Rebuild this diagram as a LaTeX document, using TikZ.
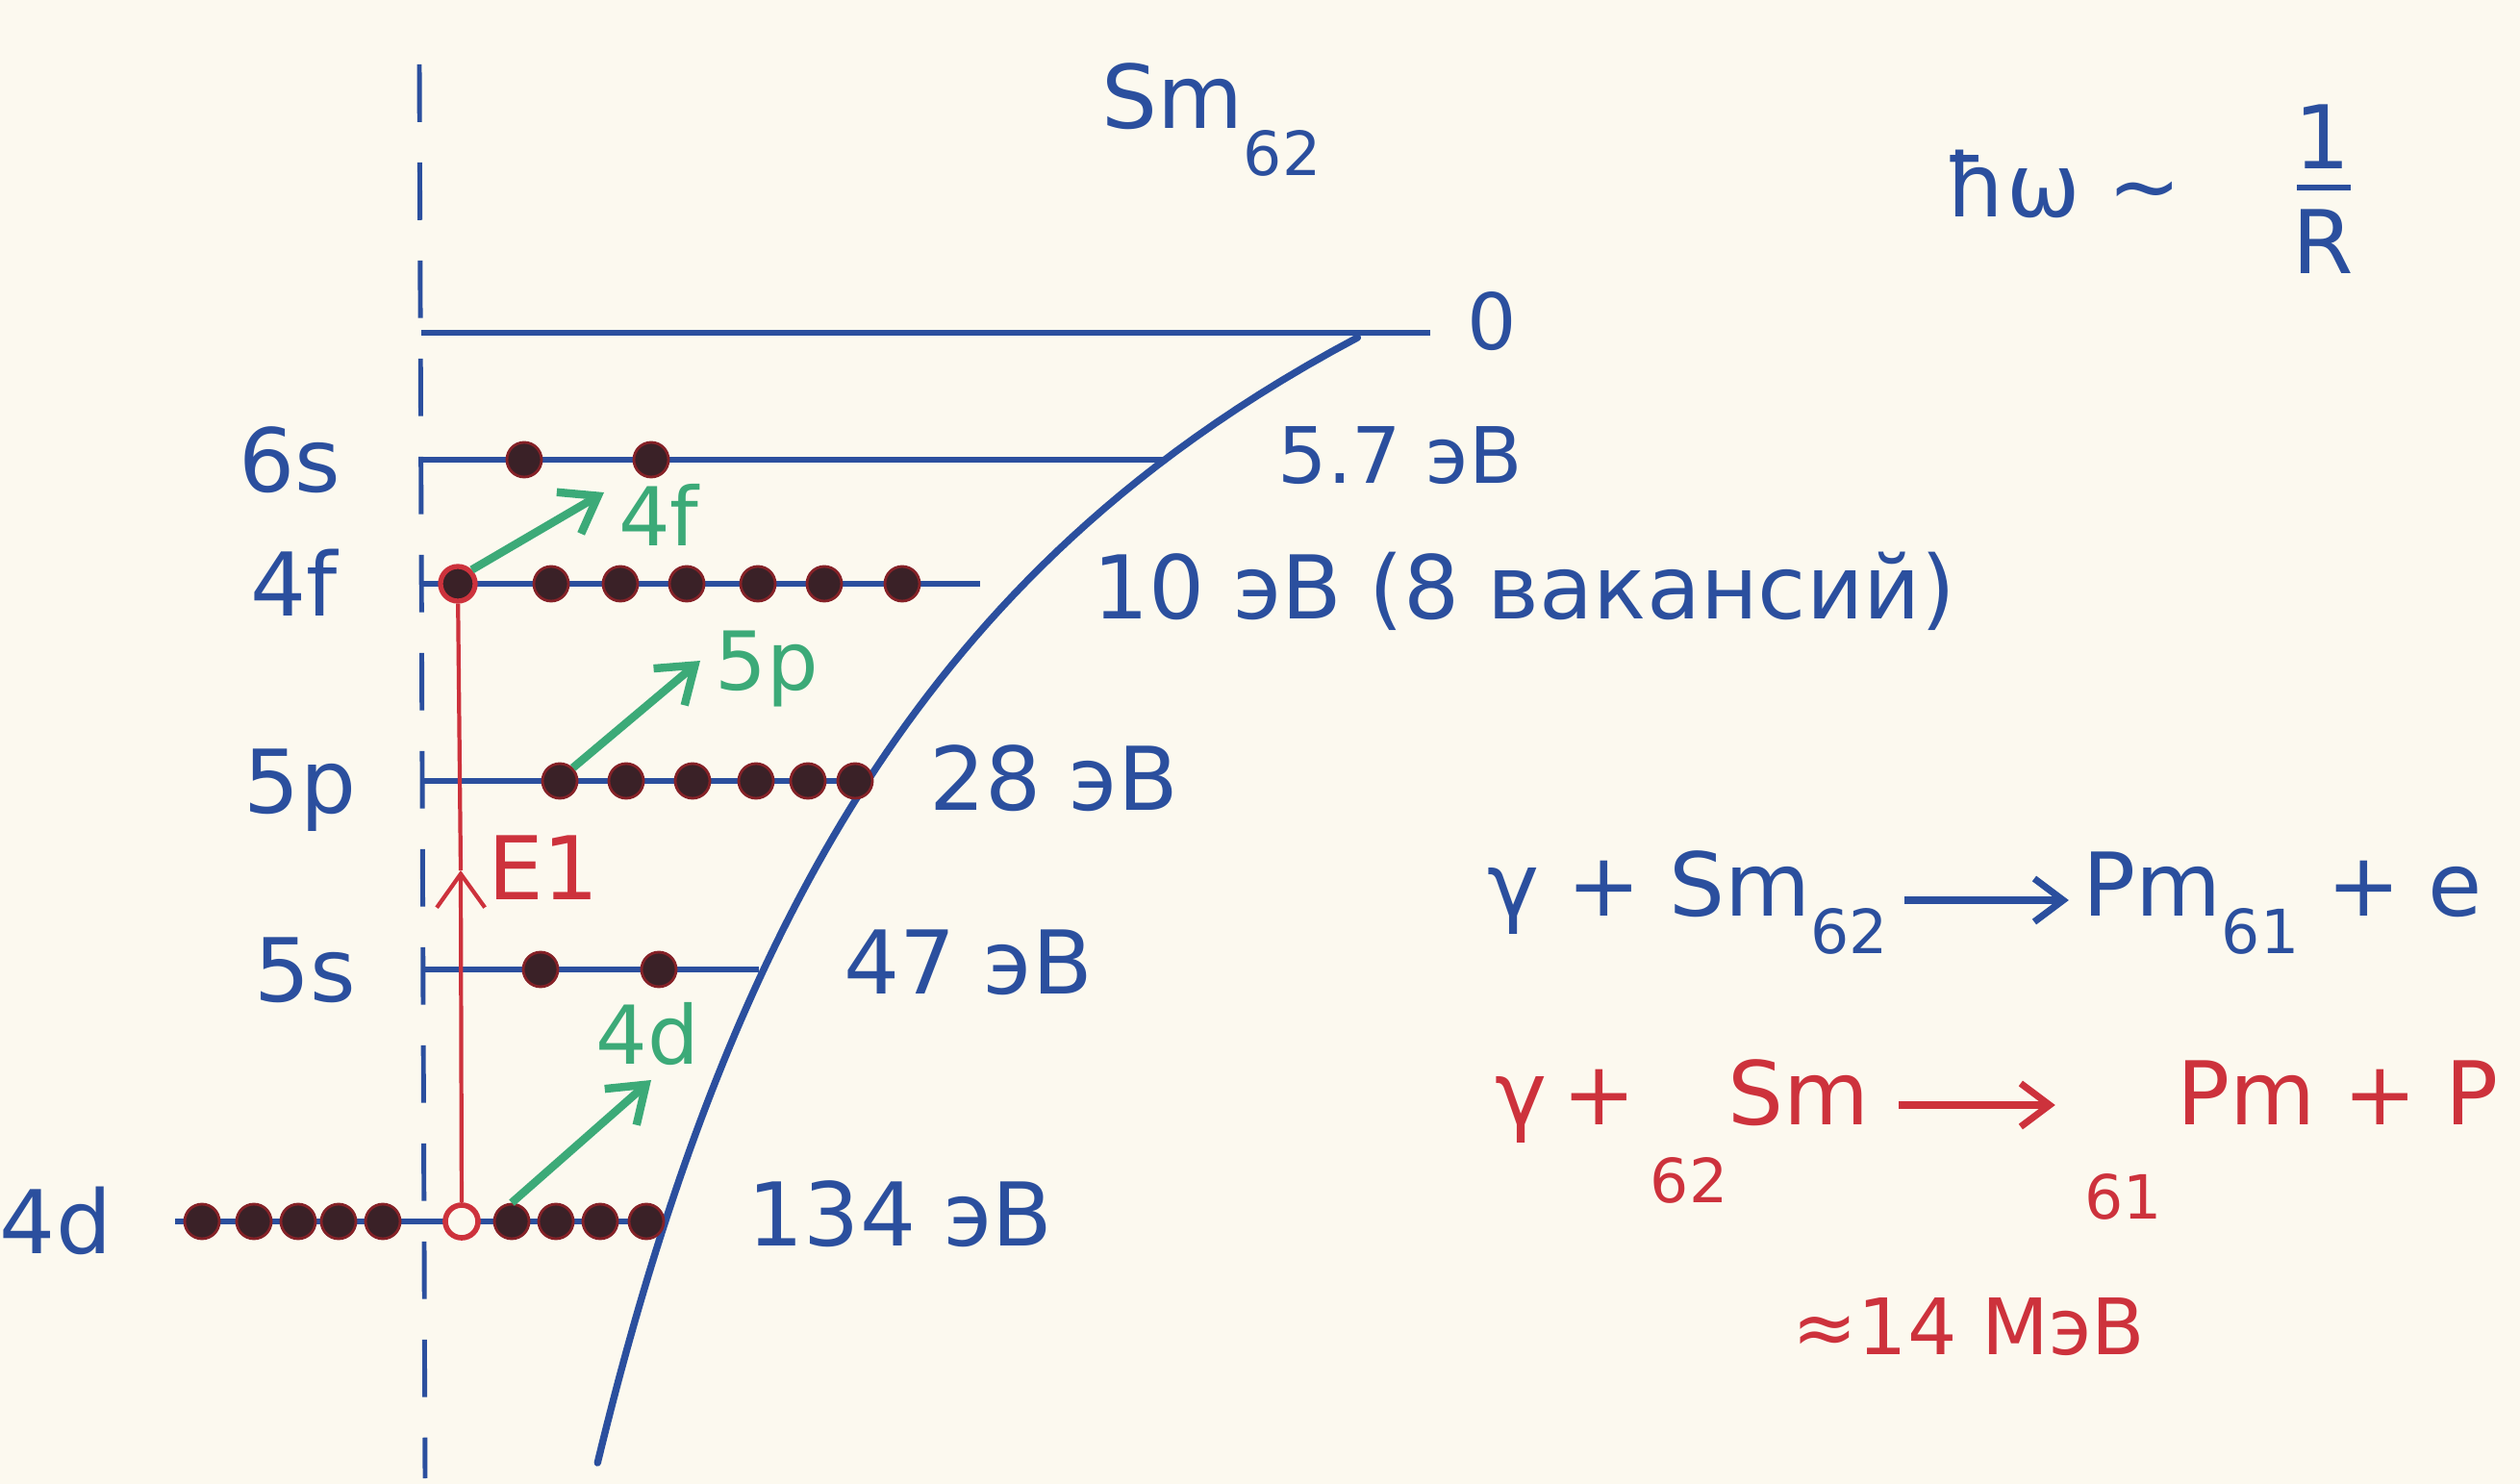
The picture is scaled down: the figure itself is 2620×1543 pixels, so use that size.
\documentclass[tikz,border=0pt]{standalone}
\usepackage{fontspec}
\setmainfont{DejaVu Sans}
\usetikzlibrary{arrows.meta, positioning, calc}

\definecolor{paper}{HTML}{FCF9EF}
\definecolor{ink}{HTML}{2B4F9E}
\definecolor{redink}{HTML}{CD323C}
\definecolor{greenink}{HTML}{3CAA78}
\definecolor{dotink}{HTML}{3A2127}

\newcommand\subsz{\fontsize{18}{20}\selectfont}

\begin{document}
\begin{tikzpicture}[
  x=0.01cm, y=-0.01cm,
  level/.style={draw=ink, line width=1.7pt},
  lbl/.style={text=ink, font=\fontsize{26}{30}\selectfont, inner sep=0pt,
              text height=19pt, text depth=0pt},
  small/.style={lbl, font=\fontsize{23}{27}\selectfont, text height=17pt},
  glbl/.style={lbl, text=greenink, font=\fontsize{24}{28}\selectfont, text height=17.5pt},
  rlbl/.style={lbl, text=redink},
  electron/.style={circle, fill=dotink, draw=redink!65!black, line width=0.8pt,
                   minimum size=0.36cm, inner sep=0pt},
  hole/.style={circle, fill=paper, draw=redink, line width=1.6pt,
               minimum size=0.34cm, inner sep=0pt},
  jump/.style={draw=greenink, line width=2.4pt, -{Straight Barb[length=3.5mm, width=5mm]}},
  eqarrow/.style={line width=2pt, -{Straight Barb[length=3mm, width=4.5mm]}},
]

% ---- paper ----
\fill[paper] (0,0) rectangle (2620,1543);
\useasboundingbox (0,0) rectangle (2620,1543);

% ---- axis and levels ----
\draw[ink, line width=1.4pt, dash pattern=on 17pt off 12pt] (436,67) -- (442,1537);

\draw[level] (438,346)  -- (1487,346);
\draw[level] (438,478)  -- (1211,478);
\draw[level] (438,607)  -- (1019,607);
\draw[level] (438,812)  -- (900,812);
\draw[level] (438,1008) -- (789,1008);
\draw[level] (182,1270) -- (694,1270);

% ---- potential ----
\draw[ink, line width=2.1pt, line cap=round] plot[variable=\t, domain=351:1521, samples=80]
  ({180+8046/((\t+302.4)/100)}, \t);

% ---- shell names ----
\node[lbl] (n6s) at (301,478)  {6s};
\node[lbl] (n4f) at (306,607)  {4f};
\node[lbl] (n5p) at (312,812)  {5p};
\node[lbl] (n5s) at (317,1008) {5s};
\node[lbl] (n4d) at (58,1270)  {4d};

% ---- energies ----
\node[small] (e0) at (1551,334) {0};
\node[small, anchor=west] (e6s) at (1328,473)  {5.7 эВ};
\node[lbl, anchor=west]   (e4f) at (1136,610)  {10 эВ (8 вакансий)};
\node[lbl, anchor=west]   (e5p) at (966,809)   {28 эВ};
\node[lbl, anchor=west]   (e5s) at (877,1000)  {47 эВ};
\node[lbl, anchor=west]   (e4d) at (777,1262)  {134 эВ};

% ---- electrons ----
\foreach \x [count=\i] in {545,677}
  \node[electron] (s6-\i) at (\x,478) {};
\node[electron, draw=redink, line width=1.5pt] (f1) at (476,607) {};
\foreach \x [count=\i from 2] in {573,645,714,788,857,938}
  \node[electron] (f-\i) at (\x,607) {};
\foreach \x [count=\i] in {582,651,720,786,840,889}
  \node[electron] (p-\i) at (\x,812) {};
\foreach \x [count=\i] in {562,685}
  \node[electron] (s5-\i) at (\x,1008) {};
\foreach \x [count=\i] in {210,264,310,352,398}
  \node[electron] (dl-\i) at (\x,1270) {};
\node[hole] (hole) at (480,1270) {};
\foreach \x [count=\i] in {532,578,624,672}
  \node[electron] (dr-\i) at (\x,1270) {};

% ---- E1 ----
\coordinate (e1tip) at (479,905);
\draw[redink, line width=1.2pt, -{Straight Barb[length=3.5mm, width=5mm]}] (hole) -- (e1tip);
\draw[redink, line width=1.2pt] (e1tip) -- (f1);
\node[rlbl] (e1) at (565,902) {E1};

% ---- shake-up ----
\coordinate (tf) at (628,512);
\coordinate (tp) at (728,687);
\coordinate (td) at (677,1123);
\draw[jump] (f1.north east) -- (tf);
\draw[jump] (p-1.north east) -- (tp);
\draw[jump] (dr-1.north) -- (td);
\node[glbl] (g4f) at (685,537)  {4f};
\node[glbl] (g5p) at (797,687)  {5p};
\node[glbl] (g4d) at (673,1076) {4d};

% ---- titles ----
\node[lbl, anchor=west] (sm) at (1145,100) {Sm\raisebox{-14pt}{\subsz 62}};
\node[lbl, anchor=west] (hw) at (2022,192) {ħω ∼};
\node[lbl] (num) at (2415,142) {1};
\node[lbl] (den) at (2415,251) {R};
\draw[ink, line width=1.8pt] (2388,195) -- (2444,195);

% ---- reactions ----
\node[lbl, anchor=west] (bl) at (1546,919) {γ + Sm\raisebox{-11pt}{\subsz 62}};
\node[lbl, anchor=east] (br) at (2582,919) {Pm\raisebox{-11pt}{\subsz 61} + e};
\draw[ink, eqarrow] ([shift={(16,17)}]bl.east) -- ([shift={(-14,17)}]br.west);

\node[rlbl, anchor=west] (rl) at (1554,1136) {γ\,+\,\raisebox{-23pt}{\subsz 62}Sm};
\node[rlbl, anchor=east] (rr) at (2598,1136) {\raisebox{-28pt}{\subsz 61}\,Pm + P};
\draw[redink, eqarrow] ([shift={(30,13)}]rl.east) -- ([shift={(-30,13)}]rr.west);
\node[rlbl, font=\fontsize{23}{27}\selectfont, text height=17pt] (mev) at (2047,1379) {≈14 МэВ};

\end{tikzpicture}
\end{document}
